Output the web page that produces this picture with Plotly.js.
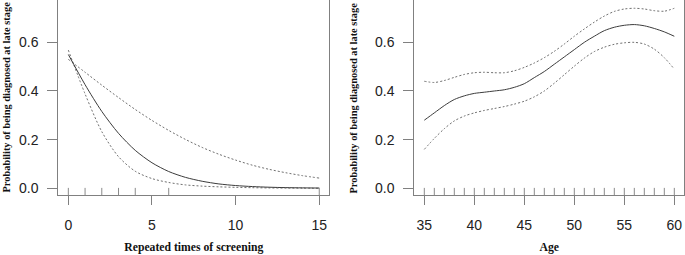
<!DOCTYPE html>
<html>
<head>
<meta charset="utf-8">
<script src="https://cdn.plot.ly/plotly-3.0.1.min.js"></script>
<style>html,body{margin:0;padding:0;background:#fff;}#chart{width:685px;height:255px;}</style>
</head>
<body>
<div id="chart"></div>
<script>
// ---- Data ----
const screenTimes = [0,1,2,3,4,5,6,7,8,9,10,11,12,13,14,15];
const screenFit   = [0.55,0.426,0.316,0.226,0.156,0.105,0.069,0.045,0.029,0.018,0.0114,0.0072,0.0045,0.0028,0.0018,0.0011];
const screenUpper = [0.53,0.477,0.424,0.373,0.324,0.279,0.238,0.201,0.168,0.140,0.116,0.095,0.078,0.064,0.052,0.042];
const screenLower = [0.568,0.388,0.233,0.13,0.07,0.04,0.024,0.014,0.009,0.006,0.004,0.0025,0.0015,0.001,0.0006,0.0003];
const screenRug   = [0,1,2,3,4,6,15];

const ages     = [35,36,37,38,39,40,41,42,43,44,45,46,47,48,49,50,51,52,53,54,55,56,57,58,59,60];
const ageFit   = [0.28,0.31,0.34,0.365,0.38,0.39,0.395,0.40,0.405,0.415,0.43,0.455,0.48,0.51,0.54,0.57,0.60,0.625,0.648,0.662,0.67,0.673,0.668,0.657,0.643,0.625];
const ageUpper = [0.44,0.435,0.443,0.456,0.468,0.475,0.477,0.475,0.475,0.483,0.497,0.515,0.537,0.563,0.593,0.625,0.655,0.683,0.708,0.727,0.737,0.74,0.737,0.73,0.728,0.74];
const ageLower = [0.16,0.205,0.245,0.277,0.297,0.31,0.32,0.328,0.336,0.346,0.358,0.376,0.40,0.432,0.467,0.502,0.535,0.562,0.58,0.592,0.598,0.60,0.593,0.572,0.537,0.49];
const ageRug   = [35,36,37,38,39,40,41,42,43,44,45,46,47,48,49,50,51,52,53,54,55,56,57,58,59,60];

const yTicks = [0, 0.2, 0.4, 0.6];
const yTickText = ['0.0','0.2','0.4','0.6'];
const xTicks1 = [0,5,10,15];
const xTicks2 = [35,40,45,50,55,60];

const yTitle = 'Probability of being diagnosed at late stage';
const xTitle1 = 'Repeated times of screening';
const xTitle2 = 'Age';

// ---- Styling ----
const yRange = [-0.0275, 0.774];
const rugY = yRange[0] + 0.015 * (yRange[1] - yRange[0]);
const solidLine = {color:'#3c3c3c', width:1, shape:'spline', smoothing:0.8};
const dashLine  = {color:'#707070', width:1, dash:'2px,2px', shape:'spline', smoothing:0.8};
const rugMarker = {symbol:'line-ns-open', size:6, color:'#8a8a8a', line:{color:'#8a8a8a', width:1}};

function curves(x, fit, up, lo, xa, ya){
  return [
    {x:x, y:up,  xaxis:xa, yaxis:ya, type:'scatter', mode:'lines', line:dashLine, hoverinfo:'skip'},
    {x:x, y:lo,  xaxis:xa, yaxis:ya, type:'scatter', mode:'lines', line:dashLine, hoverinfo:'skip'},
    {x:x, y:fit, xaxis:xa, yaxis:ya, type:'scatter', mode:'lines', line:solidLine, hoverinfo:'skip'}
  ];
}
function rug(vals, xa, ya){
  return {x:vals, y:vals.map(()=>rugY), xaxis:xa, yaxis:ya, type:'scatter', mode:'markers', marker:rugMarker, hoverinfo:'skip'};
}

const data = [].concat(
  curves(screenTimes, screenFit, screenUpper, screenLower, 'x', 'y'),
  [rug(screenRug, 'x', 'y')],
  curves(ages, ageFit, ageUpper, ageLower, 'x2', 'y2'),
  [rug(ageRug, 'x2', 'y2')]
);

const tickFont = {family:'"Liberation Sans", Arial, sans-serif', size:14, color:'#222'};
const titleFont = {family:'"Liberation Serif", "Times New Roman", serif', size:11.7, color:'#111', weight:'bold'};
const yTitleFont = {family:'"Liberation Serif", "Times New Roman", serif', size:10.4, color:'#111', weight:'bold'};

function xAxis(domain, range, ticks, title){
  return {
    domain:domain, range:range, tickmode:'array', tickvals:ticks, ticktext:ticks.map(String),
    ticks:'outside', ticklen:9, tickwidth:1, tickcolor:'#808080',
    showline:true, mirror:true, linecolor:'#808080', linewidth:1,
    showgrid:false, zeroline:false, tickfont:tickFont, ticklabelstandoff:8,
    title:{text:'<b>'+title+'</b>', font:titleFont, standoff:11}
  };
}
function yAxis(anchor){
  return {
    domain:[60/255, 1], range:yRange, anchor:anchor, tickmode:'array', tickvals:yTicks, ticktext:yTickText,
    ticks:'outside', ticklen:10, tickwidth:1, tickcolor:'#808080',
    showline:true, mirror:true, linecolor:'#808080', linewidth:1,
    showgrid:false, zeroline:false, tickfont:tickFont, ticklabelstandoff:6
  };
}

const layout = {
  width:685, height:255, margin:{l:0, r:0, t:0, b:0},
  paper_bgcolor:'#fff', plot_bgcolor:'#fff', showlegend:false,
  xaxis: Object.assign(xAxis([58.3/685, 329.3/685], [-0.6, 15.6], xTicks1, xTitle1), {anchor:'y'}),
  yaxis: yAxis('x'),
  xaxis2: Object.assign(xAxis([414.3/685, 684.3/685], [34, 61], xTicks2, xTitle2), {anchor:'y2'}),
  yaxis2: yAxis('x2'),
  annotations:[
    {text:'<b>'+yTitle+'</b>', textangle:-90, xref:'paper', yref:'paper', x:6/685, y:60/255, xanchor:'center', yanchor:'bottom', showarrow:false, font:yTitleFont},
    {text:'<b>'+yTitle+'</b>', textangle:-90, xref:'paper', yref:'paper', x:353/685, y:60/255, xanchor:'center', yanchor:'bottom', showarrow:false, font:yTitleFont}
  ]
};

Plotly.newPlot('chart', data, layout, {staticPlot:true, displayModeBar:false});
</script>
</body>
</html>
